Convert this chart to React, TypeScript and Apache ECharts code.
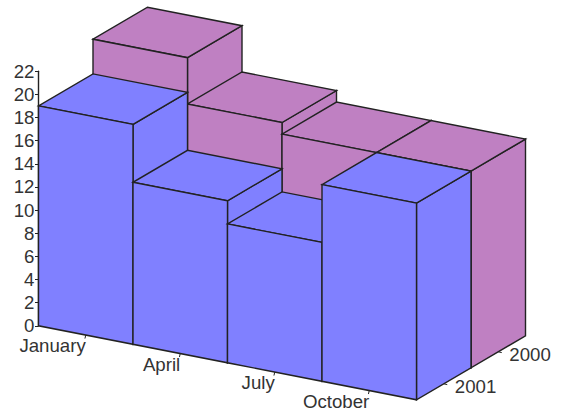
import React, { useEffect, useRef } from "react";
import * as echarts from "echarts";

const categories = ["January", "April", "July", "October"];
const rows = ["2001", "2000"];
const values2000 = [22, 18, 17, 17];
const values2001 = [19, 14, 12, 17];
const yMax = 22;
const yStep = 2;

const W = 563;
const H = 411;
const GRID = { left: 38.5, top: 71.2, width: 378, height: 254.6 };
const DEPTH_X = 54.5;
const DEPTH_Y = -32;
const SLOPE = 74 / 378;
const FONT = "Liberation Sans, Arial, sans-serif";
const FONT_SIZE = 18.67;
const TEXT = "#333333";
const LINE = "#222222";
const LINE_W = 1.4;
const BLUE = "#8080ff";
const PURPLE = "#bf80c2";

// Projects a chart-space pixel (x along the categories, y from the value axis)
// into the oblique view used by the picture.
function project(x: number, y: number, row: number): [number, number] {
  const shear = (x - GRID.left) * SLOPE;
  return [x + row * DEPTH_X, y + shear + row * DEPTH_Y];
}

function barRenderer(row: number, fill: string) {
  return (_params: any, api: any) => {
    const i = api.value(0);
    const v = api.value(1);
    const centre = api.coord([i, v]);
    const base = api.coord([i, 0]);
    const band = api.size([1, 0])[0];
    const x0 = centre[0] - band / 2;
    const x1 = centre[0] + band / 2;
    const fl0 = project(x0, base[1], row);
    const fl1 = project(x0, centre[1], row);
    const fr0 = project(x1, base[1], row);
    const fr1 = project(x1, centre[1], row);
    const back = (p: [number, number]) => [p[0] + DEPTH_X, p[1] + DEPTH_Y];
    const style = { fill, stroke: LINE, lineWidth: LINE_W };
    return {
      type: "group",
      children: [
        {
          type: "polygon",
          shape: { points: [fr0, fr1, back(fr1), back(fr0)] },
          style,
        },
        {
          type: "polygon",
          shape: { points: [fl1, fr1, back(fr1), back(fl1)] },
          style,
        },
        {
          type: "polygon",
          shape: { points: [fl0, fl1, fr1, fr0] },
          style,
        },
      ],
    };
  };
}

function categoryAxisRenderer(_params: any, api: any) {
  const i = api.value(0);
  const centre = api.coord([i, 0]);
  const p = project(centre[0], centre[1], 0);
  return {
    type: "group",
    children: [
      {
        type: "line",
        shape: { x1: p[0], y1: p[1], x2: p[0] - 0.8, y2: p[1] + 3.5 },
        style: { stroke: LINE, lineWidth: 1 },
      },
      {
        type: "text",
        style: {
          text: categories[i],
          x: p[0],
          y: p[1] + 10.5,
          align: "right",
          verticalAlign: "middle",
          fontFamily: FONT,
          fontSize: FONT_SIZE,
          fill: TEXT,
        },
      },
    ],
  };
}

function rowAxisRenderer(_params: any, api: any) {
  const r = api.value(0);
  const end = api.coord([categories.length - 1, 0]);
  const band = api.size([1, 0])[0];
  const p = project(end[0] + band / 2, end[1], r + 0.5);
  return {
    type: "group",
    children: [
      {
        type: "line",
        shape: { x1: p[0], y1: p[1], x2: p[0] + 3.5, y2: p[1] + 0.8 },
        style: { stroke: LINE, lineWidth: 1 },
      },
      {
        type: "text",
        style: {
          text: rows[r],
          x: p[0] + 11,
          y: p[1] + 3,
          align: "left",
          verticalAlign: "middle",
          fontFamily: FONT,
          fontSize: FONT_SIZE,
          fill: TEXT,
        },
      },
    ],
  };
}

export default function App() {
  const ref = useRef<HTMLDivElement>(null);
  useEffect(() => {
    document.body.style.margin = "0";
    const chart = echarts.init(ref.current!, undefined, { renderer: "svg" });
    chart.setOption({
      animation: false,
      backgroundColor: "#ffffff",
      grid: { ...GRID, containLabel: false },
      xAxis: { type: "category", data: categories, show: false },
      yAxis: {
        type: "value",
        min: 0,
        max: yMax,
        interval: yStep,
        splitLine: { show: false },
        axisLine: { show: true, lineStyle: { color: LINE, width: LINE_W } },
        axisTick: { show: true, length: 3.5, lineStyle: { color: LINE, width: 1 } },
        axisLabel: { margin: 4, color: TEXT, fontFamily: FONT, fontSize: FONT_SIZE },
      },
      series: [
        {
          type: "custom",
          name: rows[1],
          silent: true,
          z: 3,
          renderItem: barRenderer(1, PURPLE),
          data: values2000.map((v, i) => [i, v]),
        },
        {
          type: "custom",
          name: rows[0],
          silent: true,
          z: 4,
          renderItem: barRenderer(0, BLUE),
          data: values2001.map((v, i) => [i, v]),
        },
        {
          type: "custom",
          silent: true,
          z: 2,
          renderItem: categoryAxisRenderer,
          data: categories.map((_c, i) => [i, 0]),
        },
        {
          type: "custom",
          silent: true,
          z: 2,
          renderItem: rowAxisRenderer,
          data: rows.map((_r, i) => [i, 0]),
        },
      ],
    });
    return () => chart.dispose();
  }, []);
  return <div ref={ref} style={{ position: "absolute", left: 0, top: 0, width: W, height: H }} />;
}
